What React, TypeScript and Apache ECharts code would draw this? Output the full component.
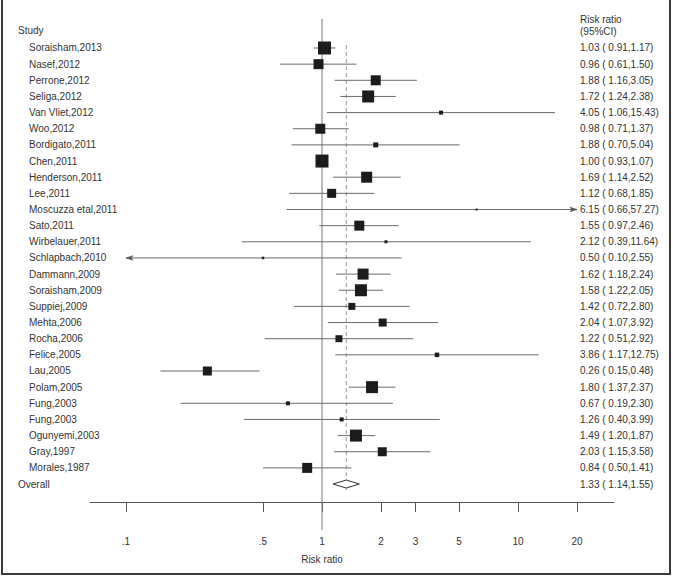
import React, { useEffect, useRef } from "react";
import * as echarts from "echarts";

const studies = [
  "Soraisham,2013", "Nasef,2012", "Perrone,2012", "Seliga,2012", "Van Vliet,2012",
  "Woo,2012", "Bordigato,2011", "Chen,2011", "Henderson,2011", "Lee,2011",
  "Moscuzza etal,2011", "Sato,2011", "Wirbelauer,2011", "Schlapbach,2010", "Dammann,2009",
  "Soraisham,2009", "Suppiej,2009", "Mehta,2006", "Rocha,2006", "Felice,2005",
  "Lau,2005", "Polam,2005", "Fung,2003", "Fung,2003", "Ogunyemi,2003",
  "Gray,1997", "Morales,1987",
];
const riskRatio = [1.03, 0.96, 1.88, 1.72, 4.05, 0.98, 1.88, 1.0, 1.69, 1.12, 6.15, 1.55, 2.12, 0.5, 1.62, 1.58, 1.42, 2.04, 1.22, 3.86, 0.26, 1.8, 0.67, 1.26, 1.49, 2.03, 0.84];
const ciLow = [0.91, 0.61, 1.16, 1.24, 1.06, 0.71, 0.7, 0.93, 1.14, 0.68, 0.66, 0.97, 0.39, 0.1, 1.18, 1.22, 0.72, 1.07, 0.51, 1.17, 0.15, 1.37, 0.19, 0.4, 1.2, 1.15, 0.5];
const ciHigh = [1.17, 1.5, 3.05, 2.38, 15.43, 1.37, 5.04, 1.07, 2.52, 1.85, 57.27, 2.46, 11.64, 2.55, 2.24, 2.05, 2.8, 3.92, 2.92, 12.75, 0.48, 2.37, 2.3, 3.99, 1.87, 3.58, 1.41];
const weights = [7.78, 4.6, 4.6, 6.63, 0.74, 4.6, 1.15, 7.78, 5.57, 3.73, 0.18, 4.6, 0.41, 0.28, 5.57, 6.63, 2.25, 2.95, 2.25, 0.92, 3.73, 6.63, 0.74, 0.74, 6.63, 3.73, 4.6];

const overallLabel = "Overall";
const overallRR = 1.33;
const overallLow = 1.14;
const overallHigh = 1.55;

const tickValues = [0.1, 0.5, 1, 2, 3, 5, 10, 20];
const tickLabels = [".1", ".5", "1", "2", "3", "5", "10", "20"];

const FONT = '"Liberation Sans", Arial, sans-serif';
const TEXT = "#333";
const CLIP_MIN = 0.1;
const CLIP_MAX = 20;

const ciText = (r: number, l: number, h: number) => `${r.toFixed(2)} ( ${l.toFixed(2)},${h.toFixed(2)})`;

export default function App() {
  const ref = useRef<HTMLDivElement>(null);
  useEffect(() => {
    document.body.style.margin = "0";
    const chart = echarts.init(ref.current!, null, { renderer: "svg" });
    const xMin = -1.1837;
    const xMax = 1.4898;
    const nameX = 29;
    const headX = 18;
    const valX = 580;

    const txt = (text: string, x: number, y: number, align = "left") => ({
      type: "text",
      x,
      y,
      style: { text, fill: TEXT, fontSize: 10, fontFamily: FONT, align, verticalAlign: "middle" },
    });

    const option: any = {
      animation: false,
      backgroundColor: "#fff",
      grid: { left: 90, right: 59, top: 15.7, bottom: 74 },
      xAxis: {
        type: "value",
        position: "bottom",
        min: xMin,
        max: xMax,
        splitLine: { show: false },
        axisLine: { show: true, onZero: false, lineStyle: { color: "#555", width: 1 } },
        axisTick: {
          show: true,
          length: 10,
          customValues: tickValues.map((t) => Math.log10(t)),
          lineStyle: { color: "#555", width: 1 },
        },
        axisLabel: {
          show: true,
          margin: 34,
          color: TEXT,
          fontSize: 10,
          fontFamily: FONT,
          customValues: tickValues.map((t) => Math.log10(t)),
          formatter: (v: number) => {
            const k = tickValues.findIndex((t) => Math.abs(Math.log10(t) - v) < 1e-6);
            return k >= 0 ? tickLabels[k] : "";
          },
        },
      },
      yAxis: { type: "value", min: -1, max: 29.112, inverse: true, show: false },
      series: [
        {
          type: "custom",
          name: "refs",
          clip: false,
          silent: true,
          data: [[0, 0]],
          renderItem: (params: any, api: any) => {
            const x1 = api.coord([0, 0])[0];
            const xo = api.coord([Math.log10(overallRR), 0])[0];
            const yTop = api.coord([0, -0.8])[1];
            const yBot = api.coord([0, 30.85])[1];
            const dTop = api.coord([0, 0.82])[1];
            const dBot = api.coord([0, 28.37])[1];
            const yHead = api.coord([0, -0.1])[1];
            const yTitle = api.coord([0, 32.7])[1];
            return {
              type: "group",
              children: [
                { type: "line", shape: { x1, y1: yTop, x2: x1, y2: yBot }, style: { stroke: "#777", lineWidth: 1 } },
                { type: "line", shape: { x1: xo, y1: dTop, x2: xo, y2: dBot }, style: { stroke: "#999", lineWidth: 1, lineDash: [4, 3] } },
                txt("Study", headX, yHead),
                txt("Risk ratio", valX, api.coord([0, -0.75])[1]),
                txt("(95%CI)", valX, api.coord([0, -0.05])[1]),
                txt("Risk ratio", x1, yTitle, "center"),
              ],
            };
          },
        },
        {
          type: "custom",
          name: "studies",
          clip: false,
          silent: true,
          data: studies.map((_, i) => [Math.log10(riskRatio[i]), i + 1]),
          renderItem: (params: any, api: any) => {
            const i = params.dataIndex;
            const row = i + 1;
            const y = api.coord([0, row])[1];
            const lowClipped = ciLow[i] <= CLIP_MIN;
            const highClipped = ciHigh[i] >= CLIP_MAX;
            const xl = api.coord([Math.log10(Math.max(ciLow[i], CLIP_MIN)), row])[0];
            const xh = api.coord([Math.log10(Math.min(ciHigh[i], CLIP_MAX)), row])[0];
            const xc = api.coord([Math.log10(riskRatio[i]), row])[0];
            const side = Math.sqrt(weights[i] * 21.73);
            const children: any[] = [
              { type: "line", shape: { x1: xl, y1: y, x2: xh, y2: y }, style: { stroke: "#6a6a6a", lineWidth: 1 } },
            ];
            if (lowClipped) {
              children.push({
                type: "polygon",
                shape: { points: [[xl, y], [xl + 7, y - 2.2], [xl + 5, y], [xl + 7, y + 2.2]] },
                style: { fill: "#555", stroke: "#555", lineWidth: 0.6 },
              });
            }
            if (highClipped) {
              children.push({
                type: "polygon",
                shape: { points: [[xh, y], [xh - 7, y - 2.2], [xh - 5, y], [xh - 7, y + 2.2]] },
                style: { fill: "#555", stroke: "#555", lineWidth: 0.6 },
              });
            }
            children.push({
              type: "rect",
              shape: { x: xc - side / 2, y: y - side / 2, width: side, height: side },
              style: { fill: "#1c1c1c" },
            });
            children.push(txt(studies[i], nameX, y));
            children.push(txt(ciText(riskRatio[i], ciLow[i], ciHigh[i]), valX, y));
            return { type: "group", children };
          },
        },
        {
          type: "custom",
          name: "overall",
          clip: false,
          silent: true,
          data: [[Math.log10(overallRR), studies.length + 1]],
          renderItem: (params: any, api: any) => {
            const row = studies.length + 1;
            const y = api.coord([0, row])[1];
            const xl = api.coord([Math.log10(overallLow), row])[0];
            const xh = api.coord([Math.log10(overallHigh), row])[0];
            const xc = api.coord([Math.log10(overallRR), row])[0];
            return {
              type: "group",
              children: [
                {
                  type: "polygon",
                  shape: { points: [[xl, y], [xc, y - 4], [xh, y], [xc, y + 4]] },
                  style: { fill: "#fff", stroke: "#333", lineWidth: 1 },
                },
                txt(overallLabel, headX, y),
                txt(ciText(overallRR, overallLow, overallHigh), valX, y),
              ],
            };
          },
        },
      ],
      graphic: [
        {
          type: "rect",
          shape: { x: 2, y: -3, width: 668, height: 577 },
          style: { fill: "none", stroke: "#3a3a3a", lineWidth: 2 },
          silent: true,
        },
      ],
    };
    chart.setOption(option);
    return () => chart.dispose();
  }, []);
  return <div ref={ref} style={{ width: 673, height: 576 }} />;
}
